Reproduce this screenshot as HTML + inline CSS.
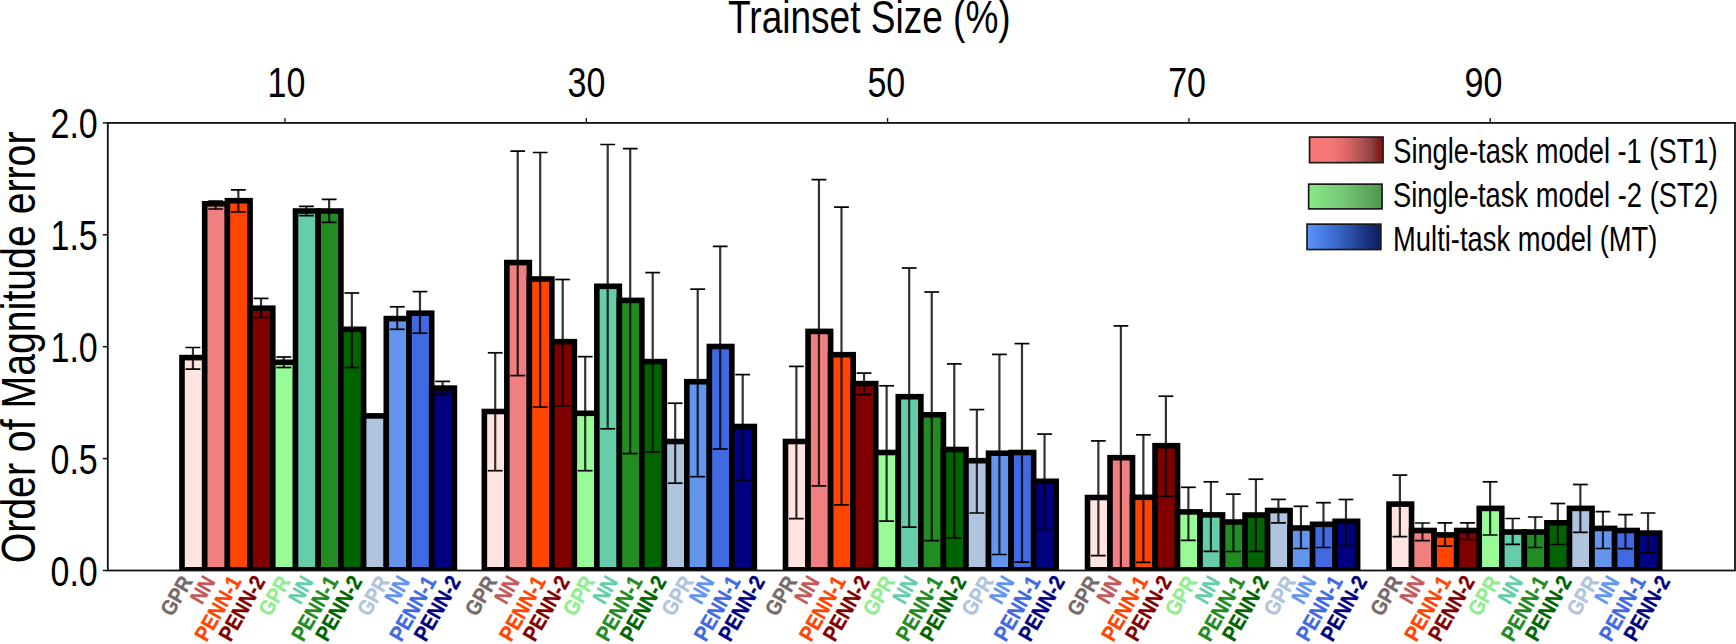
<!DOCTYPE html><html><head><meta charset="utf-8"><style>html,body{margin:0;padding:0;background:#fff;overflow:hidden;}svg{display:block;}text{font-family:'Liberation Sans', Arial, sans-serif;}</style></head><body>
<svg width="1736" height="644" viewBox="0 0 1736 644">
<defs>
<clipPath id="ax"><rect x="107.8" y="122.9" width="1627.2" height="447.6"/></clipPath>
<linearGradient id="g1" x1="0" x2="1" y1="0" y2="0"><stop offset="0" stop-color="#f87676"/><stop offset="0.3" stop-color="#f47777"/><stop offset="0.5" stop-color="#dc6767"/><stop offset="0.7" stop-color="#b05454"/><stop offset="0.85" stop-color="#8e4040"/><stop offset="0.93" stop-color="#85221a"/><stop offset="1" stop-color="#8a1200"/></linearGradient>
<linearGradient id="g2" x1="0" x2="1" y1="0" y2="0"><stop offset="0" stop-color="#88ea88"/><stop offset="0.5" stop-color="#74c474"/><stop offset="1" stop-color="#4e944e"/></linearGradient>
<linearGradient id="g3" x1="0" x2="1" y1="0" y2="0"><stop offset="0" stop-color="#5b94fb"/><stop offset="0.35" stop-color="#3d6dd2"/><stop offset="0.6" stop-color="#2a4fa6"/><stop offset="0.8" stop-color="#1a3280"/><stop offset="1" stop-color="#0e1d5e"/></linearGradient>
</defs>
<rect x="0" y="0" width="1736" height="644" fill="#fff"/>
<g clip-path="url(#ax)">
<rect x="182.00" y="357.60" width="22.70" height="212.20" fill="#FFE4E1" stroke="#000" stroke-width="5.6"/>
<rect x="204.70" y="203.80" width="22.70" height="366.00" fill="#F08080" stroke="#000" stroke-width="5.6"/>
<rect x="227.40" y="200.70" width="22.70" height="369.10" fill="#FF4500" stroke="#000" stroke-width="5.6"/>
<rect x="250.10" y="308.20" width="22.70" height="261.60" fill="#800000" stroke="#000" stroke-width="5.6"/>
<rect x="272.80" y="362.30" width="22.70" height="207.50" fill="#98FB98" stroke="#000" stroke-width="5.6"/>
<rect x="295.50" y="211.00" width="22.70" height="358.80" fill="#66CDAA" stroke="#000" stroke-width="5.6"/>
<rect x="318.20" y="211.00" width="22.70" height="358.80" fill="#228B22" stroke="#000" stroke-width="5.6"/>
<rect x="340.90" y="329.30" width="22.70" height="240.50" fill="#006400" stroke="#000" stroke-width="5.6"/>
<rect x="363.60" y="415.90" width="22.70" height="153.90" fill="#B0C4DE" stroke="#000" stroke-width="5.6"/>
<rect x="386.30" y="318.60" width="22.70" height="251.20" fill="#6495ED" stroke="#000" stroke-width="5.6"/>
<rect x="409.00" y="313.20" width="22.70" height="256.60" fill="#4169E1" stroke="#000" stroke-width="5.6"/>
<rect x="431.70" y="388.10" width="22.70" height="181.70" fill="#000080" stroke="#000" stroke-width="5.6"/>
<rect x="484.35" y="411.50" width="22.50" height="158.30" fill="#FFE4E1" stroke="#000" stroke-width="5.6"/>
<rect x="506.85" y="262.55" width="22.50" height="307.25" fill="#F08080" stroke="#000" stroke-width="5.6"/>
<rect x="529.35" y="279.00" width="22.50" height="290.80" fill="#FF4500" stroke="#000" stroke-width="5.6"/>
<rect x="551.85" y="341.65" width="22.50" height="228.15" fill="#800000" stroke="#000" stroke-width="5.6"/>
<rect x="574.35" y="413.30" width="22.50" height="156.50" fill="#98FB98" stroke="#000" stroke-width="5.6"/>
<rect x="596.85" y="286.30" width="22.50" height="283.50" fill="#66CDAA" stroke="#000" stroke-width="5.6"/>
<rect x="619.35" y="300.40" width="22.50" height="269.40" fill="#228B22" stroke="#000" stroke-width="5.6"/>
<rect x="641.85" y="361.60" width="22.50" height="208.20" fill="#006400" stroke="#000" stroke-width="5.6"/>
<rect x="664.35" y="441.50" width="22.50" height="128.30" fill="#B0C4DE" stroke="#000" stroke-width="5.6"/>
<rect x="686.85" y="381.70" width="22.50" height="188.10" fill="#6495ED" stroke="#000" stroke-width="5.6"/>
<rect x="709.35" y="346.50" width="22.50" height="223.30" fill="#4169E1" stroke="#000" stroke-width="5.6"/>
<rect x="731.85" y="426.50" width="22.50" height="143.30" fill="#000080" stroke="#000" stroke-width="5.6"/>
<rect x="785.50" y="441.50" width="22.56" height="128.30" fill="#FFE4E1" stroke="#000" stroke-width="5.6"/>
<rect x="808.06" y="331.40" width="22.56" height="238.40" fill="#F08080" stroke="#000" stroke-width="5.6"/>
<rect x="830.62" y="354.70" width="22.56" height="215.10" fill="#FF4500" stroke="#000" stroke-width="5.6"/>
<rect x="853.18" y="383.60" width="22.56" height="186.20" fill="#800000" stroke="#000" stroke-width="5.6"/>
<rect x="875.74" y="452.50" width="22.56" height="117.30" fill="#98FB98" stroke="#000" stroke-width="5.6"/>
<rect x="898.30" y="396.70" width="22.56" height="173.10" fill="#66CDAA" stroke="#000" stroke-width="5.6"/>
<rect x="920.86" y="414.80" width="22.56" height="155.00" fill="#228B22" stroke="#000" stroke-width="5.6"/>
<rect x="943.42" y="449.50" width="22.56" height="120.30" fill="#006400" stroke="#000" stroke-width="5.6"/>
<rect x="965.98" y="460.70" width="22.56" height="109.10" fill="#B0C4DE" stroke="#000" stroke-width="5.6"/>
<rect x="988.54" y="453.20" width="22.56" height="116.60" fill="#6495ED" stroke="#000" stroke-width="5.6"/>
<rect x="1011.10" y="452.50" width="22.56" height="117.30" fill="#4169E1" stroke="#000" stroke-width="5.6"/>
<rect x="1033.66" y="481.30" width="22.56" height="88.50" fill="#000080" stroke="#000" stroke-width="5.6"/>
<rect x="1087.50" y="497.50" width="22.51" height="72.30" fill="#FFE4E1" stroke="#000" stroke-width="5.6"/>
<rect x="1110.01" y="457.70" width="22.51" height="112.10" fill="#F08080" stroke="#000" stroke-width="5.6"/>
<rect x="1132.52" y="497.30" width="22.51" height="72.50" fill="#FF4500" stroke="#000" stroke-width="5.6"/>
<rect x="1155.03" y="445.70" width="22.51" height="124.10" fill="#800000" stroke="#000" stroke-width="5.6"/>
<rect x="1177.54" y="511.90" width="22.51" height="57.90" fill="#98FB98" stroke="#000" stroke-width="5.6"/>
<rect x="1200.05" y="514.90" width="22.51" height="54.90" fill="#66CDAA" stroke="#000" stroke-width="5.6"/>
<rect x="1222.56" y="522.00" width="22.51" height="47.80" fill="#228B22" stroke="#000" stroke-width="5.6"/>
<rect x="1245.07" y="515.00" width="22.51" height="54.80" fill="#006400" stroke="#000" stroke-width="5.6"/>
<rect x="1267.58" y="510.50" width="22.51" height="59.30" fill="#B0C4DE" stroke="#000" stroke-width="5.6"/>
<rect x="1290.09" y="528.00" width="22.51" height="41.80" fill="#6495ED" stroke="#000" stroke-width="5.6"/>
<rect x="1312.60" y="524.30" width="22.51" height="45.50" fill="#4169E1" stroke="#000" stroke-width="5.6"/>
<rect x="1335.11" y="521.30" width="22.51" height="48.50" fill="#000080" stroke="#000" stroke-width="5.6"/>
<rect x="1389.00" y="504.10" width="22.56" height="65.70" fill="#FFE4E1" stroke="#000" stroke-width="5.6"/>
<rect x="1411.56" y="530.50" width="22.56" height="39.30" fill="#F08080" stroke="#000" stroke-width="5.6"/>
<rect x="1434.12" y="534.90" width="22.56" height="34.90" fill="#FF4500" stroke="#000" stroke-width="5.6"/>
<rect x="1456.68" y="530.50" width="22.56" height="39.30" fill="#800000" stroke="#000" stroke-width="5.6"/>
<rect x="1479.24" y="508.40" width="22.56" height="61.40" fill="#98FB98" stroke="#000" stroke-width="5.6"/>
<rect x="1501.80" y="532.00" width="22.56" height="37.80" fill="#66CDAA" stroke="#000" stroke-width="5.6"/>
<rect x="1524.36" y="532.00" width="22.56" height="37.80" fill="#228B22" stroke="#000" stroke-width="5.6"/>
<rect x="1546.92" y="522.80" width="22.56" height="47.00" fill="#006400" stroke="#000" stroke-width="5.6"/>
<rect x="1569.48" y="508.40" width="22.56" height="61.40" fill="#B0C4DE" stroke="#000" stroke-width="5.6"/>
<rect x="1592.04" y="528.40" width="22.56" height="41.40" fill="#6495ED" stroke="#000" stroke-width="5.6"/>
<rect x="1614.60" y="530.50" width="22.56" height="39.30" fill="#4169E1" stroke="#000" stroke-width="5.6"/>
<rect x="1637.16" y="533.10" width="22.56" height="36.70" fill="#000080" stroke="#000" stroke-width="5.6"/>
<line x1="192.95" y1="347.50" x2="192.95" y2="369.20" stroke="#000" stroke-opacity="0.8" stroke-width="2.2"/>
<line x1="185.55" y1="347.50" x2="200.35" y2="347.50" stroke="#000" stroke-width="1.7"/>
<line x1="185.55" y1="369.20" x2="200.35" y2="369.20" stroke="#000" stroke-width="1.7"/>
<line x1="215.65" y1="201.10" x2="215.65" y2="209.00" stroke="#000" stroke-opacity="0.8" stroke-width="2.2"/>
<line x1="208.25" y1="201.10" x2="223.05" y2="201.10" stroke="#000" stroke-width="1.7"/>
<line x1="208.25" y1="209.00" x2="223.05" y2="209.00" stroke="#000" stroke-width="1.7"/>
<line x1="238.35" y1="189.90" x2="238.35" y2="211.90" stroke="#000" stroke-opacity="0.8" stroke-width="2.2"/>
<line x1="230.95" y1="189.90" x2="245.75" y2="189.90" stroke="#000" stroke-width="1.7"/>
<line x1="230.95" y1="211.90" x2="245.75" y2="211.90" stroke="#000" stroke-width="1.7"/>
<line x1="261.05" y1="298.40" x2="261.05" y2="317.50" stroke="#000" stroke-opacity="0.8" stroke-width="2.2"/>
<line x1="253.65" y1="298.40" x2="268.45" y2="298.40" stroke="#000" stroke-width="1.7"/>
<line x1="253.65" y1="317.50" x2="268.45" y2="317.50" stroke="#000" stroke-width="1.7"/>
<line x1="283.75" y1="357.00" x2="283.75" y2="367.50" stroke="#000" stroke-opacity="0.8" stroke-width="2.2"/>
<line x1="276.35" y1="357.00" x2="291.15" y2="357.00" stroke="#000" stroke-width="1.7"/>
<line x1="276.35" y1="367.50" x2="291.15" y2="367.50" stroke="#000" stroke-width="1.7"/>
<line x1="306.45" y1="206.30" x2="306.45" y2="215.60" stroke="#000" stroke-opacity="0.8" stroke-width="2.2"/>
<line x1="299.05" y1="206.30" x2="313.85" y2="206.30" stroke="#000" stroke-width="1.7"/>
<line x1="299.05" y1="215.60" x2="313.85" y2="215.60" stroke="#000" stroke-width="1.7"/>
<line x1="329.15" y1="199.40" x2="329.15" y2="222.40" stroke="#000" stroke-opacity="0.8" stroke-width="2.2"/>
<line x1="321.75" y1="199.40" x2="336.55" y2="199.40" stroke="#000" stroke-width="1.7"/>
<line x1="321.75" y1="222.40" x2="336.55" y2="222.40" stroke="#000" stroke-width="1.7"/>
<line x1="351.85" y1="293.00" x2="351.85" y2="367.50" stroke="#000" stroke-opacity="0.8" stroke-width="2.2"/>
<line x1="344.45" y1="293.00" x2="359.25" y2="293.00" stroke="#000" stroke-width="1.7"/>
<line x1="344.45" y1="367.50" x2="359.25" y2="367.50" stroke="#000" stroke-width="1.7"/>
<line x1="397.25" y1="306.80" x2="397.25" y2="329.30" stroke="#000" stroke-opacity="0.8" stroke-width="2.2"/>
<line x1="389.85" y1="306.80" x2="404.65" y2="306.80" stroke="#000" stroke-width="1.7"/>
<line x1="389.85" y1="329.30" x2="404.65" y2="329.30" stroke="#000" stroke-width="1.7"/>
<line x1="419.95" y1="291.60" x2="419.95" y2="333.20" stroke="#000" stroke-opacity="0.8" stroke-width="2.2"/>
<line x1="412.55" y1="291.60" x2="427.35" y2="291.60" stroke="#000" stroke-width="1.7"/>
<line x1="412.55" y1="333.20" x2="427.35" y2="333.20" stroke="#000" stroke-width="1.7"/>
<line x1="442.65" y1="381.40" x2="442.65" y2="394.30" stroke="#000" stroke-opacity="0.8" stroke-width="2.2"/>
<line x1="435.25" y1="381.40" x2="450.05" y2="381.40" stroke="#000" stroke-width="1.7"/>
<line x1="435.25" y1="394.30" x2="450.05" y2="394.30" stroke="#000" stroke-width="1.7"/>
<line x1="495.20" y1="352.80" x2="495.20" y2="470.70" stroke="#000" stroke-opacity="0.8" stroke-width="2.2"/>
<line x1="487.80" y1="352.80" x2="502.60" y2="352.80" stroke="#000" stroke-width="1.7"/>
<line x1="487.80" y1="470.70" x2="502.60" y2="470.70" stroke="#000" stroke-width="1.7"/>
<line x1="517.70" y1="151.20" x2="517.70" y2="375.60" stroke="#000" stroke-opacity="0.8" stroke-width="2.2"/>
<line x1="510.30" y1="151.20" x2="525.10" y2="151.20" stroke="#000" stroke-width="1.7"/>
<line x1="510.30" y1="375.60" x2="525.10" y2="375.60" stroke="#000" stroke-width="1.7"/>
<line x1="540.20" y1="152.50" x2="540.20" y2="407.10" stroke="#000" stroke-opacity="0.8" stroke-width="2.2"/>
<line x1="532.80" y1="152.50" x2="547.60" y2="152.50" stroke="#000" stroke-width="1.7"/>
<line x1="532.80" y1="407.10" x2="547.60" y2="407.10" stroke="#000" stroke-width="1.7"/>
<line x1="562.70" y1="279.50" x2="562.70" y2="405.80" stroke="#000" stroke-opacity="0.8" stroke-width="2.2"/>
<line x1="555.30" y1="279.50" x2="570.10" y2="279.50" stroke="#000" stroke-width="1.7"/>
<line x1="555.30" y1="405.80" x2="570.10" y2="405.80" stroke="#000" stroke-width="1.7"/>
<line x1="585.20" y1="356.65" x2="585.20" y2="470.70" stroke="#000" stroke-opacity="0.8" stroke-width="2.2"/>
<line x1="577.80" y1="356.65" x2="592.60" y2="356.65" stroke="#000" stroke-width="1.7"/>
<line x1="577.80" y1="470.70" x2="592.60" y2="470.70" stroke="#000" stroke-width="1.7"/>
<line x1="607.70" y1="144.50" x2="607.70" y2="428.80" stroke="#000" stroke-opacity="0.8" stroke-width="2.2"/>
<line x1="600.30" y1="144.50" x2="615.10" y2="144.50" stroke="#000" stroke-width="1.7"/>
<line x1="600.30" y1="428.80" x2="615.10" y2="428.80" stroke="#000" stroke-width="1.7"/>
<line x1="630.20" y1="148.60" x2="630.20" y2="453.60" stroke="#000" stroke-opacity="0.8" stroke-width="2.2"/>
<line x1="622.80" y1="148.60" x2="637.60" y2="148.60" stroke="#000" stroke-width="1.7"/>
<line x1="622.80" y1="453.60" x2="637.60" y2="453.60" stroke="#000" stroke-width="1.7"/>
<line x1="652.70" y1="272.60" x2="652.70" y2="452.00" stroke="#000" stroke-opacity="0.8" stroke-width="2.2"/>
<line x1="645.30" y1="272.60" x2="660.10" y2="272.60" stroke="#000" stroke-width="1.7"/>
<line x1="645.30" y1="452.00" x2="660.10" y2="452.00" stroke="#000" stroke-width="1.7"/>
<line x1="675.20" y1="403.20" x2="675.20" y2="483.20" stroke="#000" stroke-opacity="0.8" stroke-width="2.2"/>
<line x1="667.80" y1="403.20" x2="682.60" y2="403.20" stroke="#000" stroke-width="1.7"/>
<line x1="667.80" y1="483.20" x2="682.60" y2="483.20" stroke="#000" stroke-width="1.7"/>
<line x1="697.70" y1="289.15" x2="697.70" y2="476.70" stroke="#000" stroke-opacity="0.8" stroke-width="2.2"/>
<line x1="690.30" y1="289.15" x2="705.10" y2="289.15" stroke="#000" stroke-width="1.7"/>
<line x1="690.30" y1="476.70" x2="705.10" y2="476.70" stroke="#000" stroke-width="1.7"/>
<line x1="720.20" y1="246.40" x2="720.20" y2="449.00" stroke="#000" stroke-opacity="0.8" stroke-width="2.2"/>
<line x1="712.80" y1="246.40" x2="727.60" y2="246.40" stroke="#000" stroke-width="1.7"/>
<line x1="712.80" y1="449.00" x2="727.60" y2="449.00" stroke="#000" stroke-width="1.7"/>
<line x1="742.70" y1="374.60" x2="742.70" y2="480.40" stroke="#000" stroke-opacity="0.8" stroke-width="2.2"/>
<line x1="735.30" y1="374.60" x2="750.10" y2="374.60" stroke="#000" stroke-width="1.7"/>
<line x1="735.30" y1="480.40" x2="750.10" y2="480.40" stroke="#000" stroke-width="1.7"/>
<line x1="796.38" y1="366.40" x2="796.38" y2="518.60" stroke="#000" stroke-opacity="0.8" stroke-width="2.2"/>
<line x1="788.98" y1="366.40" x2="803.78" y2="366.40" stroke="#000" stroke-width="1.7"/>
<line x1="788.98" y1="518.60" x2="803.78" y2="518.60" stroke="#000" stroke-width="1.7"/>
<line x1="818.94" y1="179.60" x2="818.94" y2="485.90" stroke="#000" stroke-opacity="0.8" stroke-width="2.2"/>
<line x1="811.54" y1="179.60" x2="826.34" y2="179.60" stroke="#000" stroke-width="1.7"/>
<line x1="811.54" y1="485.90" x2="826.34" y2="485.90" stroke="#000" stroke-width="1.7"/>
<line x1="841.50" y1="207.10" x2="841.50" y2="504.90" stroke="#000" stroke-opacity="0.8" stroke-width="2.2"/>
<line x1="834.10" y1="207.10" x2="848.90" y2="207.10" stroke="#000" stroke-width="1.7"/>
<line x1="834.10" y1="504.90" x2="848.90" y2="504.90" stroke="#000" stroke-width="1.7"/>
<line x1="864.06" y1="373.10" x2="864.06" y2="394.60" stroke="#000" stroke-opacity="0.8" stroke-width="2.2"/>
<line x1="856.66" y1="373.10" x2="871.46" y2="373.10" stroke="#000" stroke-width="1.7"/>
<line x1="856.66" y1="394.60" x2="871.46" y2="394.60" stroke="#000" stroke-width="1.7"/>
<line x1="886.62" y1="385.80" x2="886.62" y2="521.10" stroke="#000" stroke-opacity="0.8" stroke-width="2.2"/>
<line x1="879.22" y1="385.80" x2="894.02" y2="385.80" stroke="#000" stroke-width="1.7"/>
<line x1="879.22" y1="521.10" x2="894.02" y2="521.10" stroke="#000" stroke-width="1.7"/>
<line x1="909.18" y1="268.00" x2="909.18" y2="527.10" stroke="#000" stroke-opacity="0.8" stroke-width="2.2"/>
<line x1="901.78" y1="268.00" x2="916.58" y2="268.00" stroke="#000" stroke-width="1.7"/>
<line x1="901.78" y1="527.10" x2="916.58" y2="527.10" stroke="#000" stroke-width="1.7"/>
<line x1="931.74" y1="292.00" x2="931.74" y2="540.60" stroke="#000" stroke-opacity="0.8" stroke-width="2.2"/>
<line x1="924.34" y1="292.00" x2="939.14" y2="292.00" stroke="#000" stroke-width="1.7"/>
<line x1="924.34" y1="540.60" x2="939.14" y2="540.60" stroke="#000" stroke-width="1.7"/>
<line x1="954.30" y1="363.90" x2="954.30" y2="537.90" stroke="#000" stroke-opacity="0.8" stroke-width="2.2"/>
<line x1="946.90" y1="363.90" x2="961.70" y2="363.90" stroke="#000" stroke-width="1.7"/>
<line x1="946.90" y1="537.90" x2="961.70" y2="537.90" stroke="#000" stroke-width="1.7"/>
<line x1="976.86" y1="409.60" x2="976.86" y2="513.00" stroke="#000" stroke-opacity="0.8" stroke-width="2.2"/>
<line x1="969.46" y1="409.60" x2="984.26" y2="409.60" stroke="#000" stroke-width="1.7"/>
<line x1="969.46" y1="513.00" x2="984.26" y2="513.00" stroke="#000" stroke-width="1.7"/>
<line x1="999.42" y1="354.40" x2="999.42" y2="554.50" stroke="#000" stroke-opacity="0.8" stroke-width="2.2"/>
<line x1="992.02" y1="354.40" x2="1006.82" y2="354.40" stroke="#000" stroke-width="1.7"/>
<line x1="992.02" y1="554.50" x2="1006.82" y2="554.50" stroke="#000" stroke-width="1.7"/>
<line x1="1021.98" y1="343.60" x2="1021.98" y2="562.20" stroke="#000" stroke-opacity="0.8" stroke-width="2.2"/>
<line x1="1014.58" y1="343.60" x2="1029.38" y2="343.60" stroke="#000" stroke-width="1.7"/>
<line x1="1014.58" y1="562.20" x2="1029.38" y2="562.20" stroke="#000" stroke-width="1.7"/>
<line x1="1044.54" y1="434.10" x2="1044.54" y2="529.50" stroke="#000" stroke-opacity="0.8" stroke-width="2.2"/>
<line x1="1037.14" y1="434.10" x2="1051.94" y2="434.10" stroke="#000" stroke-width="1.7"/>
<line x1="1037.14" y1="529.50" x2="1051.94" y2="529.50" stroke="#000" stroke-width="1.7"/>
<line x1="1098.36" y1="440.90" x2="1098.36" y2="555.70" stroke="#000" stroke-opacity="0.8" stroke-width="2.2"/>
<line x1="1090.96" y1="440.90" x2="1105.76" y2="440.90" stroke="#000" stroke-width="1.7"/>
<line x1="1090.96" y1="555.70" x2="1105.76" y2="555.70" stroke="#000" stroke-width="1.7"/>
<line x1="1120.87" y1="325.90" x2="1120.87" y2="590.30" stroke="#000" stroke-opacity="0.8" stroke-width="2.2"/>
<line x1="1113.47" y1="325.90" x2="1128.27" y2="325.90" stroke="#000" stroke-width="1.7"/>
<line x1="1113.47" y1="590.30" x2="1128.27" y2="590.30" stroke="#000" stroke-width="1.7"/>
<line x1="1143.38" y1="434.80" x2="1143.38" y2="562.40" stroke="#000" stroke-opacity="0.8" stroke-width="2.2"/>
<line x1="1135.98" y1="434.80" x2="1150.78" y2="434.80" stroke="#000" stroke-width="1.7"/>
<line x1="1135.98" y1="562.40" x2="1150.78" y2="562.40" stroke="#000" stroke-width="1.7"/>
<line x1="1165.88" y1="396.20" x2="1165.88" y2="496.30" stroke="#000" stroke-opacity="0.8" stroke-width="2.2"/>
<line x1="1158.49" y1="396.20" x2="1173.29" y2="396.20" stroke="#000" stroke-width="1.7"/>
<line x1="1158.49" y1="496.30" x2="1173.29" y2="496.30" stroke="#000" stroke-width="1.7"/>
<line x1="1188.39" y1="487.30" x2="1188.39" y2="540.30" stroke="#000" stroke-opacity="0.8" stroke-width="2.2"/>
<line x1="1181.00" y1="487.30" x2="1195.80" y2="487.30" stroke="#000" stroke-width="1.7"/>
<line x1="1181.00" y1="540.30" x2="1195.80" y2="540.30" stroke="#000" stroke-width="1.7"/>
<line x1="1210.90" y1="481.80" x2="1210.90" y2="551.40" stroke="#000" stroke-opacity="0.8" stroke-width="2.2"/>
<line x1="1203.51" y1="481.80" x2="1218.31" y2="481.80" stroke="#000" stroke-width="1.7"/>
<line x1="1203.51" y1="551.40" x2="1218.31" y2="551.40" stroke="#000" stroke-width="1.7"/>
<line x1="1233.41" y1="494.10" x2="1233.41" y2="551.50" stroke="#000" stroke-opacity="0.8" stroke-width="2.2"/>
<line x1="1226.02" y1="494.10" x2="1240.82" y2="494.10" stroke="#000" stroke-width="1.7"/>
<line x1="1226.02" y1="551.50" x2="1240.82" y2="551.50" stroke="#000" stroke-width="1.7"/>
<line x1="1255.92" y1="479.20" x2="1255.92" y2="551.40" stroke="#000" stroke-opacity="0.8" stroke-width="2.2"/>
<line x1="1248.53" y1="479.20" x2="1263.33" y2="479.20" stroke="#000" stroke-width="1.7"/>
<line x1="1248.53" y1="551.40" x2="1263.33" y2="551.40" stroke="#000" stroke-width="1.7"/>
<line x1="1278.43" y1="499.40" x2="1278.43" y2="522.80" stroke="#000" stroke-opacity="0.8" stroke-width="2.2"/>
<line x1="1271.04" y1="499.40" x2="1285.84" y2="499.40" stroke="#000" stroke-width="1.7"/>
<line x1="1271.04" y1="522.80" x2="1285.84" y2="522.80" stroke="#000" stroke-width="1.7"/>
<line x1="1300.94" y1="506.30" x2="1300.94" y2="548.50" stroke="#000" stroke-opacity="0.8" stroke-width="2.2"/>
<line x1="1293.55" y1="506.30" x2="1308.35" y2="506.30" stroke="#000" stroke-width="1.7"/>
<line x1="1293.55" y1="548.50" x2="1308.35" y2="548.50" stroke="#000" stroke-width="1.7"/>
<line x1="1323.45" y1="502.70" x2="1323.45" y2="547.50" stroke="#000" stroke-opacity="0.8" stroke-width="2.2"/>
<line x1="1316.06" y1="502.70" x2="1330.86" y2="502.70" stroke="#000" stroke-width="1.7"/>
<line x1="1316.06" y1="547.50" x2="1330.86" y2="547.50" stroke="#000" stroke-width="1.7"/>
<line x1="1345.97" y1="499.50" x2="1345.97" y2="545.70" stroke="#000" stroke-opacity="0.8" stroke-width="2.2"/>
<line x1="1338.57" y1="499.50" x2="1353.37" y2="499.50" stroke="#000" stroke-width="1.7"/>
<line x1="1338.57" y1="545.70" x2="1353.37" y2="545.70" stroke="#000" stroke-width="1.7"/>
<line x1="1399.88" y1="475.10" x2="1399.88" y2="536.70" stroke="#000" stroke-opacity="0.8" stroke-width="2.2"/>
<line x1="1392.48" y1="475.10" x2="1407.28" y2="475.10" stroke="#000" stroke-width="1.7"/>
<line x1="1392.48" y1="536.70" x2="1407.28" y2="536.70" stroke="#000" stroke-width="1.7"/>
<line x1="1422.44" y1="523.00" x2="1422.44" y2="540.60" stroke="#000" stroke-opacity="0.8" stroke-width="2.2"/>
<line x1="1415.04" y1="523.00" x2="1429.84" y2="523.00" stroke="#000" stroke-width="1.7"/>
<line x1="1415.04" y1="540.60" x2="1429.84" y2="540.60" stroke="#000" stroke-width="1.7"/>
<line x1="1445.00" y1="522.90" x2="1445.00" y2="546.10" stroke="#000" stroke-opacity="0.8" stroke-width="2.2"/>
<line x1="1437.60" y1="522.90" x2="1452.40" y2="522.90" stroke="#000" stroke-width="1.7"/>
<line x1="1437.60" y1="546.10" x2="1452.40" y2="546.10" stroke="#000" stroke-width="1.7"/>
<line x1="1467.56" y1="522.80" x2="1467.56" y2="539.50" stroke="#000" stroke-opacity="0.8" stroke-width="2.2"/>
<line x1="1460.16" y1="522.80" x2="1474.96" y2="522.80" stroke="#000" stroke-width="1.7"/>
<line x1="1460.16" y1="539.50" x2="1474.96" y2="539.50" stroke="#000" stroke-width="1.7"/>
<line x1="1490.12" y1="481.80" x2="1490.12" y2="535.00" stroke="#000" stroke-opacity="0.8" stroke-width="2.2"/>
<line x1="1482.72" y1="481.80" x2="1497.52" y2="481.80" stroke="#000" stroke-width="1.7"/>
<line x1="1482.72" y1="535.00" x2="1497.52" y2="535.00" stroke="#000" stroke-width="1.7"/>
<line x1="1512.68" y1="518.50" x2="1512.68" y2="544.30" stroke="#000" stroke-opacity="0.8" stroke-width="2.2"/>
<line x1="1505.28" y1="518.50" x2="1520.08" y2="518.50" stroke="#000" stroke-width="1.7"/>
<line x1="1505.28" y1="544.30" x2="1520.08" y2="544.30" stroke="#000" stroke-width="1.7"/>
<line x1="1535.24" y1="517.00" x2="1535.24" y2="547.50" stroke="#000" stroke-opacity="0.8" stroke-width="2.2"/>
<line x1="1527.84" y1="517.00" x2="1542.64" y2="517.00" stroke="#000" stroke-width="1.7"/>
<line x1="1527.84" y1="547.50" x2="1542.64" y2="547.50" stroke="#000" stroke-width="1.7"/>
<line x1="1557.80" y1="503.50" x2="1557.80" y2="544.50" stroke="#000" stroke-opacity="0.8" stroke-width="2.2"/>
<line x1="1550.40" y1="503.50" x2="1565.20" y2="503.50" stroke="#000" stroke-width="1.7"/>
<line x1="1550.40" y1="544.50" x2="1565.20" y2="544.50" stroke="#000" stroke-width="1.7"/>
<line x1="1580.36" y1="484.50" x2="1580.36" y2="532.30" stroke="#000" stroke-opacity="0.8" stroke-width="2.2"/>
<line x1="1572.96" y1="484.50" x2="1587.76" y2="484.50" stroke="#000" stroke-width="1.7"/>
<line x1="1572.96" y1="532.30" x2="1587.76" y2="532.30" stroke="#000" stroke-width="1.7"/>
<line x1="1602.92" y1="511.70" x2="1602.92" y2="548.50" stroke="#000" stroke-opacity="0.8" stroke-width="2.2"/>
<line x1="1595.52" y1="511.70" x2="1610.32" y2="511.70" stroke="#000" stroke-width="1.7"/>
<line x1="1595.52" y1="548.50" x2="1610.32" y2="548.50" stroke="#000" stroke-width="1.7"/>
<line x1="1625.48" y1="514.70" x2="1625.48" y2="548.70" stroke="#000" stroke-opacity="0.8" stroke-width="2.2"/>
<line x1="1618.08" y1="514.70" x2="1632.88" y2="514.70" stroke="#000" stroke-width="1.7"/>
<line x1="1618.08" y1="548.70" x2="1632.88" y2="548.70" stroke="#000" stroke-width="1.7"/>
<line x1="1648.04" y1="513.00" x2="1648.04" y2="552.50" stroke="#000" stroke-opacity="0.8" stroke-width="2.2"/>
<line x1="1640.64" y1="513.00" x2="1655.44" y2="513.00" stroke="#000" stroke-width="1.7"/>
<line x1="1640.64" y1="552.50" x2="1655.44" y2="552.50" stroke="#000" stroke-width="1.7"/>
</g>
<rect x="107.8" y="122.9" width="1627.2" height="447.6" fill="none" stroke="#111" stroke-width="1.8"/>
<line x1="102.8" y1="570.50" x2="107.8" y2="570.50" stroke="#111" stroke-width="1.5"/>
<text transform="translate(50.50,585.50) scale(0.8000,1)" font-size="42.5">0.0</text>
<line x1="102.8" y1="458.60" x2="107.8" y2="458.60" stroke="#111" stroke-width="1.5"/>
<text transform="translate(50.50,473.60) scale(0.8000,1)" font-size="42.5">0.5</text>
<line x1="102.8" y1="346.70" x2="107.8" y2="346.70" stroke="#111" stroke-width="1.5"/>
<text transform="translate(50.50,361.70) scale(0.8000,1)" font-size="42.5">1.0</text>
<line x1="102.8" y1="234.80" x2="107.8" y2="234.80" stroke="#111" stroke-width="1.5"/>
<text transform="translate(50.50,249.80) scale(0.8000,1)" font-size="42.5">1.5</text>
<line x1="102.8" y1="122.90" x2="107.8" y2="122.90" stroke="#111" stroke-width="1.5"/>
<text transform="translate(50.50,137.90) scale(0.8000,1)" font-size="42.5">2.0</text>
<line x1="285.00" y1="117.9" x2="285.00" y2="122.9" stroke="#111" stroke-width="1.3"/>
<line x1="586.30" y1="117.9" x2="586.30" y2="122.9" stroke="#111" stroke-width="1.3"/>
<line x1="887.60" y1="117.9" x2="887.60" y2="122.9" stroke="#111" stroke-width="1.3"/>
<line x1="1188.90" y1="117.9" x2="1188.90" y2="122.9" stroke="#111" stroke-width="1.3"/>
<line x1="1490.20" y1="117.9" x2="1490.20" y2="122.9" stroke="#111" stroke-width="1.3"/>
<text transform="translate(267.46,97.00) scale(0.8140,1)" font-size="41.8">10</text>
<text transform="translate(567.47,97.00) scale(0.8140,1)" font-size="41.8">30</text>
<text transform="translate(867.42,97.00) scale(0.8140,1)" font-size="41.8">50</text>
<text transform="translate(1168.17,97.00) scale(0.8140,1)" font-size="41.8">70</text>
<text transform="translate(1464.62,97.00) scale(0.8140,1)" font-size="41.8">90</text>
<text transform="translate(728.11,33.00) scale(0.7949,1)" font-size="46.6">Trainset Size (%)</text>
<text transform="translate(34.5,563.34) rotate(-90) scale(0.8179,1)" font-size="48">Order of Magnitude error</text>
<text transform="translate(193.30,581.3) rotate(-60) scale(0.9,1)" text-anchor="end" font-size="21.5" font-weight="bold" fill="#776a6a" stroke="#776a6a" stroke-width="0.35">GPR</text>
<text transform="translate(215.90,581.3) rotate(-60) scale(0.9,1)" text-anchor="end" font-size="21.5" font-weight="bold" fill="#c25a5a" stroke="#c25a5a" stroke-width="0.35">NN</text>
<text transform="translate(242.00,581.3) rotate(-60) scale(0.9,1)" text-anchor="end" font-size="21.5" font-weight="bold" fill="#FF4500" stroke="#FF4500" stroke-width="0.35">PENN-1</text>
<text transform="translate(265.90,581.3) rotate(-60) scale(0.9,1)" text-anchor="end" font-size="21.5" font-weight="bold" fill="#800000" stroke="#800000" stroke-width="0.35">PENN-2</text>
<text transform="translate(291.20,581.3) rotate(-60) scale(0.9,1)" text-anchor="end" font-size="21.5" font-weight="bold" fill="#90EE90" stroke="#90EE90" stroke-width="0.35">GPR</text>
<text transform="translate(314.10,581.3) rotate(-60) scale(0.9,1)" text-anchor="end" font-size="21.5" font-weight="bold" fill="#66CDAA" stroke="#66CDAA" stroke-width="0.35">NN</text>
<text transform="translate(338.80,581.3) rotate(-60) scale(0.9,1)" text-anchor="end" font-size="21.5" font-weight="bold" fill="#228B22" stroke="#228B22" stroke-width="0.35">PENN-1</text>
<text transform="translate(362.80,581.3) rotate(-60) scale(0.9,1)" text-anchor="end" font-size="21.5" font-weight="bold" fill="#006400" stroke="#006400" stroke-width="0.35">PENN-2</text>
<text transform="translate(389.90,581.3) rotate(-60) scale(0.9,1)" text-anchor="end" font-size="21.5" font-weight="bold" fill="#B0C4DE" stroke="#B0C4DE" stroke-width="0.35">GPR</text>
<text transform="translate(410.50,581.3) rotate(-60) scale(0.9,1)" text-anchor="end" font-size="21.5" font-weight="bold" fill="#6495ED" stroke="#6495ED" stroke-width="0.35">NN</text>
<text transform="translate(436.80,581.3) rotate(-60) scale(0.9,1)" text-anchor="end" font-size="21.5" font-weight="bold" fill="#4169E1" stroke="#4169E1" stroke-width="0.35">PENN-1</text>
<text transform="translate(461.30,581.3) rotate(-60) scale(0.9,1)" text-anchor="end" font-size="21.5" font-weight="bold" fill="#000080" stroke="#000080" stroke-width="0.35">PENN-2</text>
<text transform="translate(497.70,581.3) rotate(-60) scale(0.9,1)" text-anchor="end" font-size="21.5" font-weight="bold" fill="#776a6a" stroke="#776a6a" stroke-width="0.35">GPR</text>
<text transform="translate(520.30,581.3) rotate(-60) scale(0.9,1)" text-anchor="end" font-size="21.5" font-weight="bold" fill="#c25a5a" stroke="#c25a5a" stroke-width="0.35">NN</text>
<text transform="translate(546.40,581.3) rotate(-60) scale(0.9,1)" text-anchor="end" font-size="21.5" font-weight="bold" fill="#FF4500" stroke="#FF4500" stroke-width="0.35">PENN-1</text>
<text transform="translate(570.30,581.3) rotate(-60) scale(0.9,1)" text-anchor="end" font-size="21.5" font-weight="bold" fill="#800000" stroke="#800000" stroke-width="0.35">PENN-2</text>
<text transform="translate(595.60,581.3) rotate(-60) scale(0.9,1)" text-anchor="end" font-size="21.5" font-weight="bold" fill="#90EE90" stroke="#90EE90" stroke-width="0.35">GPR</text>
<text transform="translate(618.50,581.3) rotate(-60) scale(0.9,1)" text-anchor="end" font-size="21.5" font-weight="bold" fill="#66CDAA" stroke="#66CDAA" stroke-width="0.35">NN</text>
<text transform="translate(643.20,581.3) rotate(-60) scale(0.9,1)" text-anchor="end" font-size="21.5" font-weight="bold" fill="#228B22" stroke="#228B22" stroke-width="0.35">PENN-1</text>
<text transform="translate(667.20,581.3) rotate(-60) scale(0.9,1)" text-anchor="end" font-size="21.5" font-weight="bold" fill="#006400" stroke="#006400" stroke-width="0.35">PENN-2</text>
<text transform="translate(694.30,581.3) rotate(-60) scale(0.9,1)" text-anchor="end" font-size="21.5" font-weight="bold" fill="#B0C4DE" stroke="#B0C4DE" stroke-width="0.35">GPR</text>
<text transform="translate(714.90,581.3) rotate(-60) scale(0.9,1)" text-anchor="end" font-size="21.5" font-weight="bold" fill="#6495ED" stroke="#6495ED" stroke-width="0.35">NN</text>
<text transform="translate(741.20,581.3) rotate(-60) scale(0.9,1)" text-anchor="end" font-size="21.5" font-weight="bold" fill="#4169E1" stroke="#4169E1" stroke-width="0.35">PENN-1</text>
<text transform="translate(765.70,581.3) rotate(-60) scale(0.9,1)" text-anchor="end" font-size="21.5" font-weight="bold" fill="#000080" stroke="#000080" stroke-width="0.35">PENN-2</text>
<text transform="translate(797.70,581.3) rotate(-60) scale(0.9,1)" text-anchor="end" font-size="21.5" font-weight="bold" fill="#776a6a" stroke="#776a6a" stroke-width="0.35">GPR</text>
<text transform="translate(820.30,581.3) rotate(-60) scale(0.9,1)" text-anchor="end" font-size="21.5" font-weight="bold" fill="#c25a5a" stroke="#c25a5a" stroke-width="0.35">NN</text>
<text transform="translate(846.40,581.3) rotate(-60) scale(0.9,1)" text-anchor="end" font-size="21.5" font-weight="bold" fill="#FF4500" stroke="#FF4500" stroke-width="0.35">PENN-1</text>
<text transform="translate(870.30,581.3) rotate(-60) scale(0.9,1)" text-anchor="end" font-size="21.5" font-weight="bold" fill="#800000" stroke="#800000" stroke-width="0.35">PENN-2</text>
<text transform="translate(895.60,581.3) rotate(-60) scale(0.9,1)" text-anchor="end" font-size="21.5" font-weight="bold" fill="#90EE90" stroke="#90EE90" stroke-width="0.35">GPR</text>
<text transform="translate(918.50,581.3) rotate(-60) scale(0.9,1)" text-anchor="end" font-size="21.5" font-weight="bold" fill="#66CDAA" stroke="#66CDAA" stroke-width="0.35">NN</text>
<text transform="translate(943.20,581.3) rotate(-60) scale(0.9,1)" text-anchor="end" font-size="21.5" font-weight="bold" fill="#228B22" stroke="#228B22" stroke-width="0.35">PENN-1</text>
<text transform="translate(967.20,581.3) rotate(-60) scale(0.9,1)" text-anchor="end" font-size="21.5" font-weight="bold" fill="#006400" stroke="#006400" stroke-width="0.35">PENN-2</text>
<text transform="translate(994.30,581.3) rotate(-60) scale(0.9,1)" text-anchor="end" font-size="21.5" font-weight="bold" fill="#B0C4DE" stroke="#B0C4DE" stroke-width="0.35">GPR</text>
<text transform="translate(1014.90,581.3) rotate(-60) scale(0.9,1)" text-anchor="end" font-size="21.5" font-weight="bold" fill="#6495ED" stroke="#6495ED" stroke-width="0.35">NN</text>
<text transform="translate(1041.20,581.3) rotate(-60) scale(0.9,1)" text-anchor="end" font-size="21.5" font-weight="bold" fill="#4169E1" stroke="#4169E1" stroke-width="0.35">PENN-1</text>
<text transform="translate(1065.70,581.3) rotate(-60) scale(0.9,1)" text-anchor="end" font-size="21.5" font-weight="bold" fill="#000080" stroke="#000080" stroke-width="0.35">PENN-2</text>
<text transform="translate(1099.90,581.3) rotate(-60) scale(0.9,1)" text-anchor="end" font-size="21.5" font-weight="bold" fill="#776a6a" stroke="#776a6a" stroke-width="0.35">GPR</text>
<text transform="translate(1122.50,581.3) rotate(-60) scale(0.9,1)" text-anchor="end" font-size="21.5" font-weight="bold" fill="#c25a5a" stroke="#c25a5a" stroke-width="0.35">NN</text>
<text transform="translate(1148.60,581.3) rotate(-60) scale(0.9,1)" text-anchor="end" font-size="21.5" font-weight="bold" fill="#FF4500" stroke="#FF4500" stroke-width="0.35">PENN-1</text>
<text transform="translate(1172.50,581.3) rotate(-60) scale(0.9,1)" text-anchor="end" font-size="21.5" font-weight="bold" fill="#800000" stroke="#800000" stroke-width="0.35">PENN-2</text>
<text transform="translate(1197.80,581.3) rotate(-60) scale(0.9,1)" text-anchor="end" font-size="21.5" font-weight="bold" fill="#90EE90" stroke="#90EE90" stroke-width="0.35">GPR</text>
<text transform="translate(1220.70,581.3) rotate(-60) scale(0.9,1)" text-anchor="end" font-size="21.5" font-weight="bold" fill="#66CDAA" stroke="#66CDAA" stroke-width="0.35">NN</text>
<text transform="translate(1245.40,581.3) rotate(-60) scale(0.9,1)" text-anchor="end" font-size="21.5" font-weight="bold" fill="#228B22" stroke="#228B22" stroke-width="0.35">PENN-1</text>
<text transform="translate(1269.40,581.3) rotate(-60) scale(0.9,1)" text-anchor="end" font-size="21.5" font-weight="bold" fill="#006400" stroke="#006400" stroke-width="0.35">PENN-2</text>
<text transform="translate(1296.50,581.3) rotate(-60) scale(0.9,1)" text-anchor="end" font-size="21.5" font-weight="bold" fill="#B0C4DE" stroke="#B0C4DE" stroke-width="0.35">GPR</text>
<text transform="translate(1317.10,581.3) rotate(-60) scale(0.9,1)" text-anchor="end" font-size="21.5" font-weight="bold" fill="#6495ED" stroke="#6495ED" stroke-width="0.35">NN</text>
<text transform="translate(1343.40,581.3) rotate(-60) scale(0.9,1)" text-anchor="end" font-size="21.5" font-weight="bold" fill="#4169E1" stroke="#4169E1" stroke-width="0.35">PENN-1</text>
<text transform="translate(1367.90,581.3) rotate(-60) scale(0.9,1)" text-anchor="end" font-size="21.5" font-weight="bold" fill="#000080" stroke="#000080" stroke-width="0.35">PENN-2</text>
<text transform="translate(1402.90,581.3) rotate(-60) scale(0.9,1)" text-anchor="end" font-size="21.5" font-weight="bold" fill="#776a6a" stroke="#776a6a" stroke-width="0.35">GPR</text>
<text transform="translate(1425.50,581.3) rotate(-60) scale(0.9,1)" text-anchor="end" font-size="21.5" font-weight="bold" fill="#c25a5a" stroke="#c25a5a" stroke-width="0.35">NN</text>
<text transform="translate(1451.60,581.3) rotate(-60) scale(0.9,1)" text-anchor="end" font-size="21.5" font-weight="bold" fill="#FF4500" stroke="#FF4500" stroke-width="0.35">PENN-1</text>
<text transform="translate(1475.50,581.3) rotate(-60) scale(0.9,1)" text-anchor="end" font-size="21.5" font-weight="bold" fill="#800000" stroke="#800000" stroke-width="0.35">PENN-2</text>
<text transform="translate(1500.80,581.3) rotate(-60) scale(0.9,1)" text-anchor="end" font-size="21.5" font-weight="bold" fill="#90EE90" stroke="#90EE90" stroke-width="0.35">GPR</text>
<text transform="translate(1523.70,581.3) rotate(-60) scale(0.9,1)" text-anchor="end" font-size="21.5" font-weight="bold" fill="#66CDAA" stroke="#66CDAA" stroke-width="0.35">NN</text>
<text transform="translate(1548.40,581.3) rotate(-60) scale(0.9,1)" text-anchor="end" font-size="21.5" font-weight="bold" fill="#228B22" stroke="#228B22" stroke-width="0.35">PENN-1</text>
<text transform="translate(1572.40,581.3) rotate(-60) scale(0.9,1)" text-anchor="end" font-size="21.5" font-weight="bold" fill="#006400" stroke="#006400" stroke-width="0.35">PENN-2</text>
<text transform="translate(1599.50,581.3) rotate(-60) scale(0.9,1)" text-anchor="end" font-size="21.5" font-weight="bold" fill="#B0C4DE" stroke="#B0C4DE" stroke-width="0.35">GPR</text>
<text transform="translate(1620.10,581.3) rotate(-60) scale(0.9,1)" text-anchor="end" font-size="21.5" font-weight="bold" fill="#6495ED" stroke="#6495ED" stroke-width="0.35">NN</text>
<text transform="translate(1646.40,581.3) rotate(-60) scale(0.9,1)" text-anchor="end" font-size="21.5" font-weight="bold" fill="#4169E1" stroke="#4169E1" stroke-width="0.35">PENN-1</text>
<text transform="translate(1670.90,581.3) rotate(-60) scale(0.9,1)" text-anchor="end" font-size="21.5" font-weight="bold" fill="#000080" stroke="#000080" stroke-width="0.35">PENN-2</text>
<rect x="1309.55" y="137.05" width="73.50" height="25.60" fill="url(#g1)" stroke="#1a1a1a" stroke-width="1.7"/>
<rect x="1308.65" y="184.15" width="73.40" height="24.70" fill="url(#g2)" stroke="#1a1a1a" stroke-width="1.7"/>
<rect x="1307.05" y="224.15" width="73.80" height="25.40" fill="url(#g3)" stroke="#1a1a1a" stroke-width="1.7"/>
<text transform="translate(1393.20,162.80) scale(0.7978,1)" font-size="34.2">Single-task model -1 (ST1)</text>
<text transform="translate(1392.90,206.80) scale(0.7995,1)" font-size="34.2">Single-task model -2 (ST2)</text>
<text transform="translate(1393.10,250.90) scale(0.7997,1)" font-size="34.2">Multi-task model (MT)</text>
</svg></body></html>
